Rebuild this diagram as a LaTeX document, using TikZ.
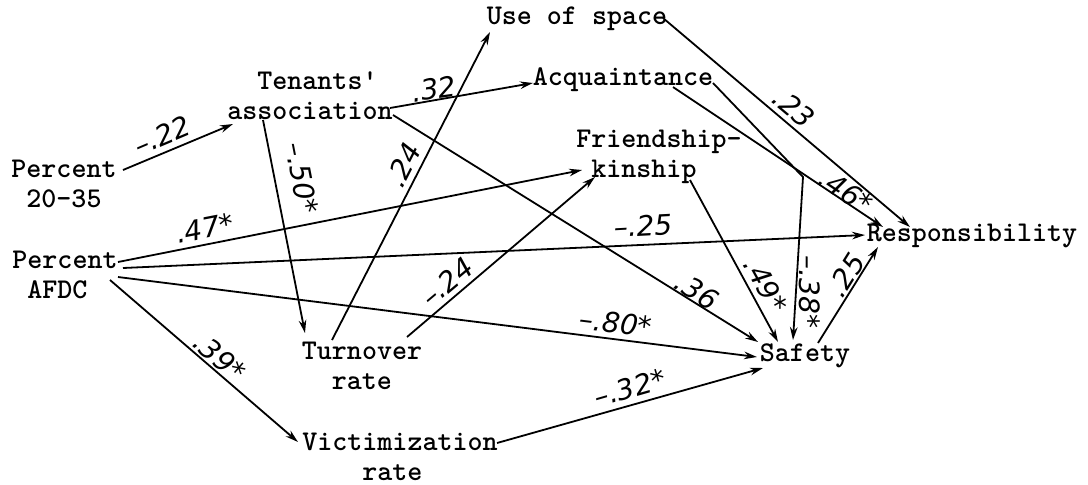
\documentclass[tikz,border=0pt]{standalone}
\usepackage{fontspec}
\newfontfamily\hand{DejaVu Sans}
\usetikzlibrary{arrows.meta,calc}
\begin{document}
\begin{tikzpicture}[x=0.5pt,y=-0.5pt,
  box/.style={font=\ttfamily\bfseries\fontsize{14.3}{15}\selectfont, align=left, inner sep=0pt},
  lbl/.style={font=\hand\itshape\fontsize{14}{14}\selectfont, inner sep=0pt},
  arr/.style={line width=0.9pt, -{Stealth[length=6.5pt,width=3.8pt]}}]
\useasboundingbox (0,0) rectangle (1088,484);
% variables
\node[box] (p2035) at (64,184) {Percent\\\hspace*{7.5pt}20-35};
\node[box] (afdc) at (65,275) {Percent\\\hspace*{7.5pt}AFDC};
\node[box] (tenants) at (310,96) {\hspace*{15pt}Tenants\textquotesingle\\association};
\node[box] (use) at (577,19) {Use of space};
\node[box] (acq) at (623,80) {Acquaintance};
\node[box] (friend) at (659,157) {Friendship-\\\hspace*{7.5pt}kinship};
\node[box] (resp) at (972,236) {Responsibility};
\node[box] (safety) at (805,356) {Safety};
\node[box] (turnover) at (362,366) {Turnover\\\hspace*{15pt}rate};
\node[box] (victim) at (400,457) {Victimization\\\hspace*{30pt}rate};
\coordinate (bend) at (803,177);
% connectors
\draw[arr] ($(p2035)+(59,-14)$) -- ($(tenants)+(-77,28)$);
\draw[arr] ($(tenants)+(80,12)$) -- ($(acq)+(-90,3)$);
\draw[arr] ($(tenants)+(83,19)$) -- ($(safety)+(-47,-14)$);
\draw[arr] ($(tenants)+(-47,24)$) -- ($(turnover)+(-57,-33)$);
\draw[arr] ($(turnover)+(-30,-26)$) -- ($(use)+(-87,13)$);
\draw[arr] ($(turnover)+(45,-29)$) -- ($(friend)+(-64,20)$);
\draw[arr] ($(afdc)+(53,-13)$) -- ($(friend)+(-77,13)$);
\draw[arr] ($(afdc)+(58,-7)$) -- ($(resp)+(-107,-1)$);
\draw[arr] ($(afdc)+(53,2)$) -- ($(safety)+(-48,1)$);
\draw[arr] ($(afdc)+(45,5)$) -- ($(victim)+(-102,-15)$);
\draw[arr] ($(victim)+(97,-14)$) -- ($(safety)+(-42,12)$);
\draw[arr] ($(use)+(86,-1)$) -- ($(resp)+(-62,-9)$);
\draw[arr] ($(acq)+(50,7)$) -- ($(resp)+(-89,-9)$);
\draw[arr] ($(acq)+(90,3)$) -- (bend) -- ($(safety)+(-12,-16)$);
\draw[arr] ($(friend)+(31,23)$) -- ($(safety)+(-27,-14)$);
\draw[arr] ($(safety)+(13,-13)$) -- ($(resp)+(-94,11)$);
% path coefficients
\node[lbl, rotate=23] (c1) at (162,135) {–.22};
\node[lbl, rotate=8] (c2) at (434,89) {.32};
\node[lbl, rotate=-32] (c3) at (697,291) {.36};
\node[lbl, rotate=-79] (c4) at (302,178) {–.50*};
\node[lbl, rotate=63] (c5) at (403,165) {.24};
\node[lbl, rotate=40] (c6) at (447,282) {–.24};
\node[lbl, rotate=11] (c7) at (205,228) {.47*};
\node[lbl, rotate=3] (c8) at (643,226) {–.25};
\node[lbl, rotate=-7] (c9) at (616,323) {–.80*};
\node[lbl, rotate=-41] (c10) at (220,357) {.39*};
\node[lbl, rotate=16] (c11) at (630,388) {–.32*};
\node[lbl, rotate=-40] (c12) at (794,108) {.23};
\node[lbl, rotate=-34] (c13) at (846,191) {.46*};
\node[lbl, rotate=-90] (c14) at (810,292) {–.38*};
\node[lbl, rotate=-61] (c15) at (766,285) {.49*};
\node[lbl, rotate=58] (c16) at (846,275) {.25};
\end{tikzpicture}
\end{document}
